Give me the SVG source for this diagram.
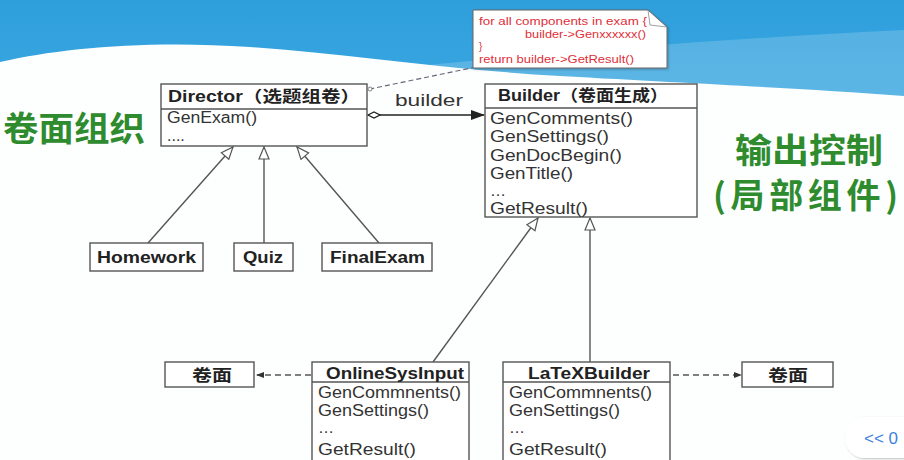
<svg xmlns="http://www.w3.org/2000/svg" width="904" height="460" viewBox="0 0 904 460">
<defs>
<linearGradient id="sky" x1="0" y1="0" x2="0" y2="1">
<stop offset="0" stop-color="#2f9fdc"/>
<stop offset="1" stop-color="#5cc0ef"/>
</linearGradient>
<marker id="hollow" viewBox="0 0 14 12" refX="13" refY="6" markerWidth="14" markerHeight="12" markerUnits="userSpaceOnUse" orient="auto">
<path d="M1,1 L13,6 L1,11 Z" fill="#fff" stroke="#555" stroke-width="1.2"/>
</marker>
<marker id="filled" viewBox="0 0 14 10" refX="13" refY="5" markerWidth="14" markerHeight="10" markerUnits="userSpaceOnUse" orient="auto">
<path d="M0,0 L14,5 L0,10 Z" fill="#222"/>
</marker>
<marker id="small" viewBox="0 0 8 8" refX="7" refY="4" markerWidth="8" markerHeight="8" markerUnits="userSpaceOnUse" orient="auto">
<path d="M0,1 L8,4 L0,7 Z" fill="#333"/>
</marker>
<marker id="diamond" viewBox="0 0 14 8" refX="1" refY="4" markerWidth="14" markerHeight="8" markerUnits="userSpaceOnUse" orient="auto">
<path d="M1,4 L7,1 L13,4 L7,7 Z" fill="#fff" stroke="#222" stroke-width="1.3"/>
</marker>
<marker id="ring" viewBox="0 0 6 6" refX="3" refY="3" markerWidth="6" markerHeight="6" markerUnits="userSpaceOnUse">
<circle cx="3" cy="3" r="2" fill="#fff" stroke="#666" stroke-width="0.8"/>
</marker>
<filter id="sh" x="-10%" y="-10%" width="130%" height="130%">
<feDropShadow dx="1" dy="1" stdDeviation="1" flood-color="#000" flood-opacity="0.25"/>
</filter>
</defs>
<style>
.box{fill:#fff;stroke:#555;stroke-width:1.4}
.t{font-family:"Liberation Sans",Arial,"Noto Sans CJK SC",sans-serif;font-size:16px;fill:#333}
.b{font-weight:bold;fill:#222}
.note{font-family:"Liberation Sans",Arial,sans-serif;font-size:10px;fill:#e0303a}
.green{font-family:"Noto Sans CJK SC","Noto Sans CJK JP",sans-serif;font-size:34px;fill:#2e8b2e;font-weight:bold}
.line{fill:none;stroke:#555;stroke-width:1.4}
.dash{fill:none;stroke:#555;stroke-width:1.3;stroke-dasharray:6 4}
</style>
<!-- background -->
<rect x="0" y="0" width="904" height="460" fill="url(#sky)"/>
<path d="M380,70 C520,55 700,40 904,30 L904,120 L380,120 Z" fill="#fff" opacity="0.18"/>
<path d="M0,62 C60,48 150,40 250,47 C350,54 450,70 560,76 C700,84 800,88 904,96 L904,460 L0,460 Z" fill="#fdfefe"/>

<!-- connectors -->
<g id="connectors">
<line class="line" x1="148" y1="243" x2="233" y2="147" marker-end="url(#hollow)"/>
<line class="line" x1="264" y1="243" x2="264" y2="147" marker-end="url(#hollow)"/>
<line class="line" x1="379" y1="243" x2="297" y2="147" marker-end="url(#hollow)"/>
<line x1="368" y1="115" x2="484" y2="115" stroke="#222" stroke-width="1.6" marker-start="url(#diamond)" marker-end="url(#filled)"/>
<line class="line" x1="433" y1="362" x2="538" y2="218" marker-end="url(#hollow)"/>
<line class="line" x1="590" y1="362" x2="590" y2="218" marker-end="url(#hollow)"/>
<line class="dash" x1="311" y1="375" x2="257" y2="375" marker-end="url(#small)"/>
<line class="dash" x1="673" y1="375" x2="741" y2="375" marker-end="url(#small)"/>
<line x1="476" y1="67" x2="370" y2="89" stroke="#667" stroke-width="1.2" stroke-dasharray="5 3" marker-end="url(#ring)"/>
<text class="t" x="395" y="106" font-size="17" textLength="68" lengthAdjust="spacingAndGlyphs">builder</text>
</g>

<!-- note -->
<g id="note">
<path d="M473,10 L648,10 L667,27 L667,68 L473,68 Z" fill="#fff" stroke="#666" stroke-width="1" filter="url(#sh)"/>
<path d="M648,10 L650,25 L667,27" fill="none" stroke="#888" stroke-width="0.8"/>
<text class="note" x="479" y="25" textLength="168" lengthAdjust="spacingAndGlyphs">for all components in exam {</text>
<text class="note" x="525" y="38" textLength="121" lengthAdjust="spacingAndGlyphs">builder-&gt;Genxxxxxx()</text>
<text class="note" x="479" y="50">}</text>
<text class="note" x="479" y="63" textLength="155" lengthAdjust="spacingAndGlyphs">return builder-&gt;GetResult()</text>
</g>

<!-- Director -->
<g id="director">
<rect class="box" x="161" y="84" width="206" height="62"/>
<line class="line" x1="161" y1="109" x2="367" y2="109"/>
<text class="t b" x="168" y="102" textLength="192" lengthAdjust="spacingAndGlyphs">Director（选题组卷）</text>
<text class="t" x="167" y="123" textLength="90" lengthAdjust="spacingAndGlyphs">GenExam()</text>
<text class="t" x="167" y="141">....</text>
</g>

<!-- Builder -->
<g id="builder">
<rect class="box" x="485" y="84" width="212" height="133"/>
<line class="line" x1="485" y1="108" x2="697" y2="108"/>
<text class="t b" x="498" y="101" textLength="170" lengthAdjust="spacingAndGlyphs">Builder（卷面生成）</text>
<text class="t" x="490" y="124" textLength="143" lengthAdjust="spacingAndGlyphs">GenComments()</text>
<text class="t" x="490" y="142" textLength="119" lengthAdjust="spacingAndGlyphs">GenSettings()</text>
<text class="t" x="490" y="161" textLength="132" lengthAdjust="spacingAndGlyphs">GenDocBegin()</text>
<text class="t" x="490" y="179" textLength="83" lengthAdjust="spacingAndGlyphs">GenTitle()</text>
<text class="t" x="490" y="196">…</text>
<text class="t" x="490" y="214" textLength="98" lengthAdjust="spacingAndGlyphs">GetResult()</text>
</g>

<!-- subclasses of Director -->
<g id="homework">
<rect class="box" x="90" y="243" width="113" height="28"/>
<text class="t b" x="97" y="263" textLength="99" lengthAdjust="spacingAndGlyphs">Homework</text>
</g>
<g id="quiz">
<rect class="box" x="234" y="243" width="59" height="28"/>
<text class="t b" x="243" y="263" textLength="40" lengthAdjust="spacingAndGlyphs">Quiz</text>
</g>
<g id="finalexam">
<rect class="box" x="322" y="243" width="110" height="28"/>
<text class="t b" x="330" y="263" textLength="95" lengthAdjust="spacingAndGlyphs">FinalExam</text>
</g>

<!-- concrete builders -->
<g id="onlinesysinput">
<rect class="box" x="312" y="362" width="157" height="102"/>
<line class="line" x1="312" y1="382" x2="469" y2="382"/>
<text class="t b" x="326" y="379" textLength="138" lengthAdjust="spacingAndGlyphs">OnlineSysInput</text>
<text class="t" x="318" y="398" textLength="143" lengthAdjust="spacingAndGlyphs">GenCommnents()</text>
<text class="t" x="318" y="416" textLength="111" lengthAdjust="spacingAndGlyphs">GenSettings()</text>
<text class="t" x="318" y="433">…</text>
<text class="t" x="318" y="455" textLength="98" lengthAdjust="spacingAndGlyphs">GetResult()</text>
</g>
<g id="latexbuilder">
<rect class="box" x="503" y="362" width="167" height="102"/>
<line class="line" x1="503" y1="382" x2="670" y2="382"/>
<text class="t b" x="528" y="379" textLength="122" lengthAdjust="spacingAndGlyphs">LaTeXBuilder</text>
<text class="t" x="509" y="398" textLength="143" lengthAdjust="spacingAndGlyphs">GenCommnents()</text>
<text class="t" x="509" y="416" textLength="111" lengthAdjust="spacingAndGlyphs">GenSettings()</text>
<text class="t" x="509" y="433">…</text>
<text class="t" x="509" y="455" textLength="98" lengthAdjust="spacingAndGlyphs">GetResult()</text>
</g>
<g id="paper-left">
<rect class="box" x="165" y="362" width="89" height="25"/>
<text class="t b" x="192" y="381" textLength="40" lengthAdjust="spacingAndGlyphs">卷面</text>
</g>
<g id="paper-right">
<rect class="box" x="742" y="362" width="91" height="25"/>
<text class="t b" x="768" y="381" textLength="40" lengthAdjust="spacingAndGlyphs">卷面</text>
</g>

<!-- green annotations -->
<g id="labels">
<text class="green" x="3" y="141" textLength="142" lengthAdjust="spacingAndGlyphs">卷面组织</text>
<text class="green" x="735" y="163" textLength="148" lengthAdjust="spacingAndGlyphs">输出控制</text>
<text class="green" x="713" y="208" textLength="185" lengthAdjust="spacing">(局部组件)</text>
</g>

<!-- UI pill -->
<g id="pill">
<rect x="845" y="417" width="80" height="41" rx="20" fill="#fff" filter="url(#sh)"/>
<text x="864" y="444" font-family="'Liberation Sans',sans-serif" font-size="17" fill="#3d7fe0">&lt;&lt; 0</text>
</g>
</svg>
